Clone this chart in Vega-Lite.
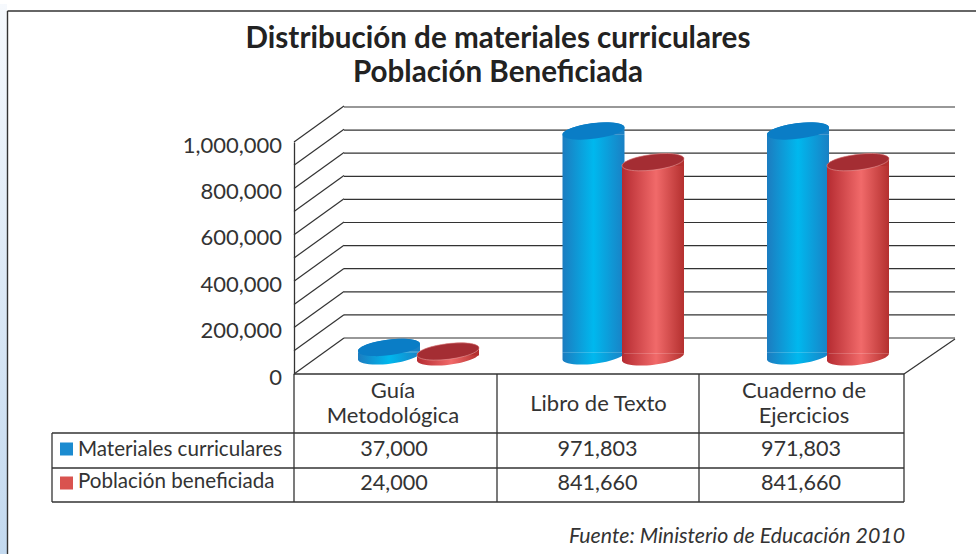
{
"$schema":"https://vega.github.io/schema/vega-lite/v6.json",
"width":976,"height":554,"padding":0,"autosize":{"type":"none"},
"background":"white",
"config":{"view":{"stroke":null},"text":{"font":"Lato"},"axis":{"labelFont":"Lato"}},
"title":{"text":["Distribución de materiales curriculares","Población Beneficiada"],"anchor":"middle","frame":"group","orient":"top","font":"Lato","fontWeight":"bold","fontSize":29.6,"lineHeight":34,"color":"#222","dx":10,"dy":89,"offset":0},
"datasets":{
"datos":[
{"categoria":"Guía\nMetodológica","serie":"Materiales curriculares","valor":37000},
{"categoria":"Libro de Texto","serie":"Materiales curriculares","valor":971803},
{"categoria":"Cuaderno de\nEjercicios","serie":"Materiales curriculares","valor":971803},
{"categoria":"Guía\nMetodológica","serie":"Población beneficiada","valor":24000},
{"categoria":"Libro de Texto","serie":"Población beneficiada","valor":841660},
{"categoria":"Cuaderno de\nEjercicios","serie":"Población beneficiada","valor":841660}],
"niveles":[{"nivel":0},{"nivel":100000},{"nivel":200000},{"nivel":300000},{"nivel":400000},{"nivel":500000},{"nivel":600000},{"nivel":700000},{"nivel":800000},{"nivel":900000},{"nivel":1000000}],
"tabla":[
{"c0":1,"c1":4,"f0":0,"f1":0},{"c0":0,"c1":4,"f0":1,"f1":1},{"c0":0,"c1":4,"f0":2,"f1":2},{"c0":0,"c1":4,"f0":3,"f1":3},
{"c0":0,"c1":0,"f0":1,"f1":3},{"c0":1,"c1":1,"f0":0,"f1":3},{"c0":2,"c1":2,"f0":0,"f1":3},{"c0":3,"c1":3,"f0":0,"f1":3},{"c0":4,"c1":4,"f0":0,"f1":3}],
"marco":[{"a0":0,"a1":0,"b0":0,"b1":1},{"a0":0,"a1":1,"b0":0,"b1":0}],
"uno":[{"id":1}]
},
"resolve":{"scale":{"x":"independent","y":"independent","color":"independent"}},
"layer":[
{"data":{"name":"uno"},"mark":{"type":"rect","fill":{"x1":0,"y1":0,"x2":0,"y2":1,"gradient":"linear","stops":[{"offset":0,"color":"#f6f9fd"},{"offset":1,"color":"#c3d9ef"}]}},
"encoding":{"x":{"datum":0,"type":"quantitative","scale":{"domain":[0,1],"range":[0,7]},"axis":null},"x2":{"datum":1},"y":{"datum":0,"type":"quantitative","scale":{"domain":[0,1],"range":[4,554]},"axis":null},"y2":{"datum":1}}},
{"data":{"name":"marco"},"mark":{"type":"rule","color":"#333","strokeWidth":1.4},
"encoding":{"x":{"field":"a0","type":"quantitative","scale":{"domain":[0,1],"range":[7.5,976]},"axis":null},"x2":{"field":"a1"},"y":{"field":"b0","type":"quantitative","scale":{"domain":[0,1],"range":[11,554]},"axis":null},"y2":{"field":"b1"}}},
{"data":{"name":"niveles"},"mark":{"type":"rule","color":"#333","strokeWidth":1.2},
"encoding":{"x":{"datum":1,"type":"quantitative","scale":{"domain":[0,1,2],"range":[294,344,955]},"axis":null},"x2":{"datum":2},"y":{"field":"nivel","type":"quantitative","scale":{"domain":[0,1000000],"range":[338,107]},"axis":null}}},
{"data":{"name":"niveles"},"mark":{"type":"rule","color":"#333","strokeWidth":1.2,"y2Offset":-36},
"encoding":{"x":{"datum":0,"type":"quantitative","scale":{"domain":[0,1,2],"range":[294,344,955]},"axis":null},"x2":{"datum":1},
"y":{"field":"nivel","type":"quantitative","scale":{"domain":[0,1000000],"range":[374,142]},
"axis":{"title":null,"orient":"left","offset":-294,"values":[0,200000,400000,600000,800000,1000000],"format":",d","ticks":false,"labelPadding":12.5,"labelOffset":3,"labelFontSize":22,"labelColor":"#333","labelFont":"Lato","domain":true,"domainColor":"#333","domainWidth":1.3,"grid":false}},"y2":{"field":"nivel"}}},
{"data":{"name":"uno"},"mark":{"type":"rule","color":"#333","strokeWidth":1.2},
"encoding":{"x":{"datum":4,"type":"quantitative","scale":{"domain":[3,4,5],"range":[699,904,955]},"axis":null},"x2":{"datum":5},"y":{"datum":0,"type":"quantitative","scale":{"domain":[0,1],"range":[374,339]},"axis":null},"y2":{"datum":1}}},
{"data":{"name":"datos"},"transform":[{"filter":"datum.serie === 'Materiales curriculares'"}],"mark":{"type":"point","filled":true,"opacity":1,"size":3900,"shape":"M-0.9925,-0.122L-0.9925,0.122A1,0.25,-7,0,0,0.9925,-0.122Z","fill":{"x1":0,"y1":0,"x2":1,"y2":0,"gradient":"linear","stops":[{"offset":0,"color":"#1c7cc0"},{"offset":0.5,"color":"#00b8ee"},{"offset":1,"color":"#1a80c4"}]}},
"encoding":{"x":{"field":"categoria","type":"nominal","sort":null,"scale":{"type":"band","range":[286.75,900.25],"padding":0},"axis":null},"y":{"datum":0,"type":"quantitative","scale":{"domain":[0,1000000],"range":[356,124.5]},"axis":null}}},
{"data":{"name":"datos"},"transform":[{"filter":"datum.serie === 'Materiales curriculares'"}],"mark":{"type":"bar","size":62,"yOffset":3.8,"y2Offset":-3.8,"fill":{"x1":0,"y1":0,"x2":1,"y2":0,"gradient":"linear","stops":[{"offset":0,"color":"#1c7cc0"},{"offset":0.5,"color":"#00b8ee"},{"offset":1,"color":"#1a80c4"}]}},
"encoding":{"x":{"field":"categoria","type":"nominal","sort":null,"scale":{"type":"band","range":[286.75,900.25],"padding":0},"axis":null},"y":{"field":"valor","type":"quantitative","stack":null,"scale":{"domain":[0,1000000],"range":[356,124.5]},"axis":null},"y2":{"datum":0}}},
{"data":{"name":"datos"},"transform":[{"filter":"datum.serie === 'Materiales curriculares'"}],"mark":{"type":"point","filled":true,"opacity":1,"size":3900,"shape":"M-0.9925,0.122A1,0.25,-7,0,1,0.9925,-0.122L0.9925,0.122Z","fill":"#1a80c4"},
"encoding":{"x":{"field":"categoria","type":"nominal","sort":null,"scale":{"type":"band","range":[286.75,900.25],"padding":0},"axis":null},"y":{"field":"valor","type":"quantitative","stack":null,"scale":{"domain":[0,1000000],"range":[356,124.5]},"axis":null}}},
{"data":{"name":"datos"},"transform":[{"filter":"datum.serie === 'Materiales curriculares'"}],"mark":{"type":"point","filled":true,"opacity":1,"size":3900,"shape":"M-0.9925,0.122A1,0.25,-7,1,1,0.9925,-0.122A1,0.25,-7,1,1,-0.9925,0.122Z","fill":"#0a7dc6"},
"encoding":{"x":{"field":"categoria","type":"nominal","sort":null,"scale":{"type":"band","range":[286.75,900.25],"padding":0},"axis":null},"y":{"field":"valor","type":"quantitative","stack":null,"scale":{"domain":[0,1000000],"range":[356,124.5]},"axis":null}}},
{"data":{"name":"datos"},"transform":[{"filter":"datum.serie === 'Población beneficiada'"}],"mark":{"type":"point","filled":true,"opacity":1,"size":3900,"shape":"M-0.9925,-0.122L-0.9925,0.122A1,0.25,-7,0,0,0.9925,-0.122Z","fill":{"x1":0,"y1":0,"x2":1,"y2":0,"gradient":"linear","stops":[{"offset":0,"color":"#b52b31"},{"offset":0.55,"color":"#f16a6a"},{"offset":1,"color":"#b4302f"}]}},
"encoding":{"x":{"field":"categoria","type":"nominal","sort":null,"scale":{"type":"band","range":[345.5,960.5],"padding":0},"axis":null},"y":{"datum":0,"type":"quantitative","scale":{"domain":[0,1000000],"range":[357,125.5]},"axis":null}}},
{"data":{"name":"datos"},"transform":[{"filter":"datum.serie === 'Población beneficiada'"}],"mark":{"type":"bar","size":62,"yOffset":3.8,"y2Offset":-3.8,"fill":{"x1":0,"y1":0,"x2":1,"y2":0,"gradient":"linear","stops":[{"offset":0,"color":"#b52b31"},{"offset":0.55,"color":"#f16a6a"},{"offset":1,"color":"#b4302f"}]}},
"encoding":{"x":{"field":"categoria","type":"nominal","sort":null,"scale":{"type":"band","range":[345.5,960.5],"padding":0},"axis":null},"y":{"field":"valor","type":"quantitative","stack":null,"scale":{"domain":[0,1000000],"range":[357,125.5]},"axis":null},"y2":{"datum":0}}},
{"data":{"name":"datos"},"transform":[{"filter":"datum.serie === 'Población beneficiada'"}],"mark":{"type":"point","filled":true,"opacity":1,"size":3900,"shape":"M-0.9925,0.122A1,0.25,-7,0,1,0.9925,-0.122L0.9925,0.122Z","fill":"#b4302f"},
"encoding":{"x":{"field":"categoria","type":"nominal","sort":null,"scale":{"type":"band","range":[345.5,960.5],"padding":0},"axis":null},"y":{"field":"valor","type":"quantitative","stack":null,"scale":{"domain":[0,1000000],"range":[357,125.5]},"axis":null}}},
{"data":{"name":"datos"},"transform":[{"filter":"datum.serie === 'Población beneficiada'"}],"mark":{"type":"point","filled":true,"opacity":1,"size":3900,"shape":"M-0.9925,0.122A1,0.25,-7,1,1,0.9925,-0.122A1,0.25,-7,1,1,-0.9925,0.122Z","fill":"#a42d33","stroke":"#e59a9a","strokeWidth":0.6},
"encoding":{"x":{"field":"categoria","type":"nominal","sort":null,"scale":{"type":"band","range":[345.5,960.5],"padding":0},"axis":null},"y":{"field":"valor","type":"quantitative","stack":null,"scale":{"domain":[0,1000000],"range":[357,125.5]},"axis":null}}},
{"data":{"name":"tabla"},"mark":{"type":"rule","color":"#333","strokeWidth":1.3},
"encoding":{"x":{"field":"c0","type":"quantitative","scale":{"domain":[0,1,2,3,4],"range":[52,294,497,699,904]},"axis":null},"x2":{"field":"c1"},"y":{"field":"f0","type":"quantitative","scale":{"domain":[0,1,2,3],"range":[374,433,468,502]},"axis":null},"y2":{"field":"f1"}}},
{"data":{"name":"datos"},"transform":[{"filter":"datum.serie === 'Materiales curriculares' && indexof(datum.categoria, '\\n') >= 0"}],"mark":{"type":"text","font":"Lato","fontSize":22,"color":"#333","lineBreak":"\n","lineHeight":25,"align":"center","baseline":"middle"},
"encoding":{"text":{"field":"categoria"},"x":{"field":"categoria","type":"nominal","sort":null,"scale":{"type":"point","padding":0,"range":[393,804]},"axis":null},"y":{"datum":0,"type":"quantitative","scale":{"domain":[0,1],"range":[391,416]},"axis":null}}},
{"data":{"name":"datos"},"transform":[{"filter":"datum.serie === 'Materiales curriculares' && indexof(datum.categoria, '\\n') < 0"}],"mark":{"type":"text","font":"Lato","fontSize":22,"color":"#333","align":"center","baseline":"middle"},
"encoding":{"text":{"field":"categoria"},"x":{"datum":0.5,"type":"quantitative","scale":{"domain":[0,1],"range":[393,804]},"axis":null},"y":{"datum":0.5,"type":"quantitative","scale":{"domain":[0,1],"range":[374,433]},"axis":null}}},
{"data":{"name":"datos"},"mark":{"type":"text","font":"Lato","fontSize":21.6,"color":"#333","align":"center","baseline":"middle"},
"encoding":{"text":{"field":"valor","type":"quantitative","format":",d"},"x":{"field":"categoria","type":"nominal","sort":null,"scale":{"type":"point","padding":0,"range":[394,801]},"axis":null},"y":{"field":"serie","type":"nominal","scale":{"type":"point","padding":0,"range":[450,484]},"axis":null}}},
{"data":{"name":"datos"},"transform":[{"filter":"datum.categoria === 'Libro de Texto'"}],"mark":{"type":"text","font":"Lato","fontSize":20.6,"color":"#333","align":"left","baseline":"middle"},
"encoding":{"text":{"field":"serie"},"x":{"datum":0.107,"type":"quantitative","scale":{"domain":[0,1],"range":[52,294]},"axis":null},"y":{"field":"serie","type":"nominal","scale":{"type":"point","padding":0,"range":[450,482]},"axis":null}}},
{"data":{"name":"datos"},"transform":[{"filter":"datum.categoria === 'Libro de Texto'"}],"mark":{"type":"point","shape":"square","filled":true,"opacity":1,"size":169},
"encoding":{"x":{"datum":0.06,"type":"quantitative","scale":{"domain":[0,1],"range":[52,294]},"axis":null},"y":{"field":"serie","type":"nominal","scale":{"type":"point","padding":0,"range":[449,483]},"axis":null},"color":{"field":"serie","type":"nominal","scale":{"domain":["Materiales curriculares","Población beneficiada"],"range":["#1b8bd0","#d9534f"]},"legend":null}}},
{"data":{"name":"uno"},"mark":{"type":"text","text":"Fuente: Ministerio de Educación 2010","font":"Lato","fontSize":21.3,"fontStyle":"italic","color":"#333","align":"right","baseline":"middle"},
"encoding":{"x":{"datum":1,"type":"quantitative","scale":{"domain":[0,1],"range":[0,905]},"axis":null},"y":{"datum":1,"type":"quantitative","scale":{"domain":[0,1],"range":[0,537]},"axis":null}}}
]
}
